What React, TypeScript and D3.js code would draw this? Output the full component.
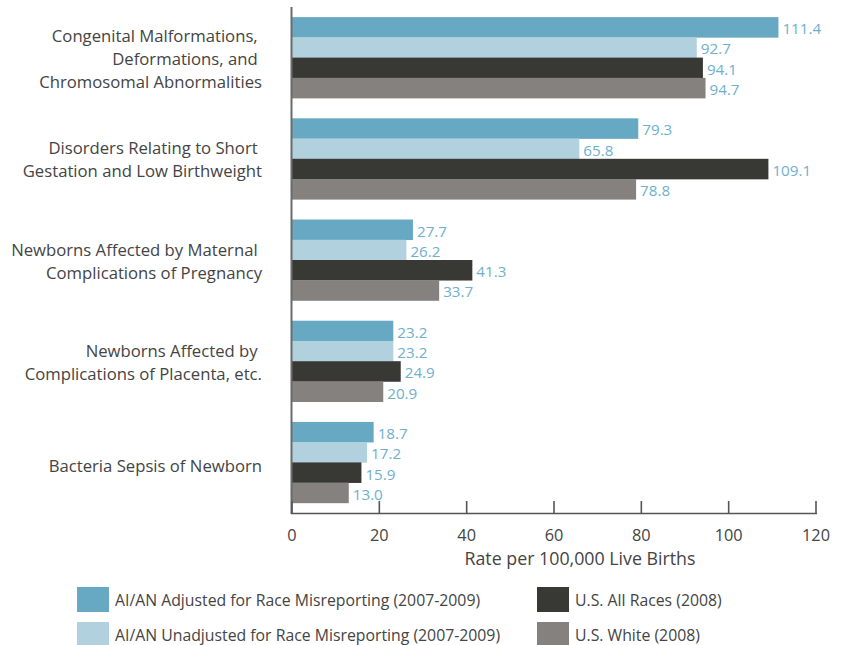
import React from "react";
import * as d3 from "d3";

const categories = [
  ["Congenital Malformations, ", "Deformations, and ", "Chromosomal Abnormalities"],
  ["Disorders Relating to Short ", "Gestation and Low Birthweight"],
  ["Newborns Affected by Maternal ", "Complications of Pregnancy"],
  ["Newborns Affected by ", "Complications of Placenta, etc."],
  ["Bacteria Sepsis of Newborn"],
];

const seriesNames = [
  "AI/AN Adjusted for Race Misreporting (2007-2009)",
  "AI/AN Unadjusted for Race Misreporting (2007-2009)",
  "U.S. All Races (2008)",
  "U.S. White (2008)",
];

const adjusted = [111.4, 79.3, 27.7, 23.2, 18.7];
const unadjusted = [92.7, 65.8, 26.2, 23.2, 17.2];
const allRaces = [94.1, 109.1, 41.3, 24.9, 15.9];
const white = [94.7, 78.8, 33.7, 20.9, 13.0];

const xTicks = [0, 20, 40, 60, 80, 100, 120];
const axisTitle = "Rate per 100,000 Live Births";

const colors = ["#67a9c3", "#b1d1de", "#383834", "#85817e"];
const FONT = "'Open Sans', sans-serif";

export default function App() {
  const W = 844;
  const H = 645;
  const series = [adjusted, unadjusted, allRaces, white];
  const catIdx = categories.map((_, i) => String(i));

  const x = d3.scaleLinear().domain([0, 120]).range([292, 816]);
  const y = d3.scaleBand().domain(catIdx).range([7, 513]).paddingInner(0.2).paddingOuter(0.1);
  const ySub = d3
    .scaleBand()
    .domain(seriesNames)
    .range([0, y.bandwidth()])
    .padding(0);

  const lineH = 23;

  return (
    <div style={{ position: "absolute", left: 0, top: 0 }}>
      <svg width={W} height={H} style={{ display: "block", background: "#fff" }}>
        {/* category labels */}
        {categories.map((lines, i) => {
          const cy = (y(String(i)) as number) + y.bandwidth() / 2 + (lines.length === 1 ? 3 : 0.5);
          const start = cy - ((lines.length - 1) * lineH) / 2;
          return (
            <text
              key={"c" + i}
              textAnchor="end"
              fontFamily={FONT}
              fontSize={16.7}
              fill="#444"
              style={{ whiteSpace: "pre" }}
            >
              {lines.map((l, j) => (
                <tspan key={j} x={262} y={start + j * lineH} dominantBaseline="central">
                  {l}
                </tspan>
              ))}
            </text>
          );
        })}

        {/* bars */}
        {categories.map((_, i) =>
          series.map((s, k) => {
            const by = (y(String(i)) as number) + (ySub(seriesNames[k]) as number);
            const v = s[i];
            return (
              <g key={"b" + i + "-" + k}>
                <rect
                  x={x(0)}
                  y={by}
                  width={x(v) - x(0)}
                  height={ySub.bandwidth() + 0.3}
                  fill={colors[k]}
                />
                <text
                  x={x(v) + 4}
                  y={by + ySub.bandwidth() / 2 + 1}
                  dominantBaseline="central"
                  fontFamily={FONT}
                  fontSize={15.2}
                  fill="#6fb0cd"
                >
                  {v.toFixed(1)}
                </text>
              </g>
            );
          })
        )}

        {/* axes */}
        <line x1={291.5} x2={291.5} y1={7} y2={514} stroke="#6b6b6b" strokeWidth={2} />
        <line x1={291} x2={817} y1={513.5} y2={513.5} stroke="#555" strokeWidth={1.6} />
        {xTicks.map((t) => (
          <g key={"t" + t}>
            <line x1={x(t)} x2={x(t)} y1={501} y2={514} stroke="#555" strokeWidth={1.6} />
            <text
              x={x(t)}
              y={535}
              textAnchor="middle"
              dominantBaseline="central"
              fontFamily={FONT}
              fontSize={16.3}
              fill="#444"
            >
              {t}
            </text>
          </g>
        ))}
        <text
          x={580}
          y={558}
          textAnchor="middle"
          dominantBaseline="central"
          fontFamily={FONT}
          fontSize={17.8}
          fill="#444"
        >
          {axisTitle}
        </text>

        {/* legend */}
        {seriesNames.map((name, k) => {
          const col = k < 2 ? 0 : 1;
          const row = k % 2;
          const rx = col === 0 ? 77 : 537;
          const ry = 587 + row * 35;
          return (
            <g key={"l" + k}>
              <rect x={rx} y={ry} width={32} height={25} fill={colors[k]} />
              <text
                x={rx + 38}
                y={ry + 13}
                dominantBaseline="central"
                fontFamily={FONT}
                fontSize={15.8}
                fill="#444"
              >
                {name}
              </text>
            </g>
          );
        })}
      </svg>
    </div>
  );
}
